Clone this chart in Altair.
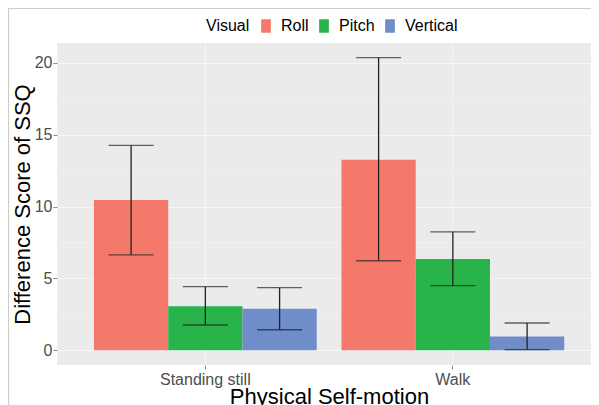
import altair as alt
import pandas as pd

motion = ["Standing still", "Standing still", "Standing still", "Walk", "Walk", "Walk"]
visual = ["Roll", "Pitch", "Vertical", "Roll", "Pitch", "Vertical"]
score = [10.45, 3.07, 2.89, 13.25, 6.35, 0.97]
lower = [6.64, 1.76, 1.43, 6.23, 4.50, 0.05]
upper = [14.25, 4.43, 4.36, 20.35, 8.24, 1.90]

visual_order = ["Roll", "Pitch", "Vertical"]
visual_colors = ["#F4796B", "#28B34B", "#6F8DC9"]
motion_order = ["Standing still", "Walk"]
major_ticks = [0, 5, 10, 15, 20]
minor_ticks = [2.5, 7.5, 12.5, 17.5]

df = pd.DataFrame({"motion": motion, "visual": visual, "score": score,
                   "lower": lower, "upper": upper})
minor_df = pd.DataFrame({"v": minor_ticks})

W, H = 534, 322

xscale = alt.Scale(domain=motion_order, paddingInner=0.1, paddingOuter=0.1288, align=0.58)
yscale = alt.Scale(domain=[-1.02, 21.37], nice=False, zero=False)
xoff = alt.XOffset("visual:N", sort=visual_order,
                   scale=alt.Scale(domain=visual_order, paddingInner=0, paddingOuter=0))

x_enc = alt.X("motion:N", sort=motion_order, scale=xscale,
              axis=alt.Axis(title="Physical Self-motion", labelAngle=0, grid=True,
                            titleX=272, titleY=38, titleBaseline="alphabetic",
                            titleAnchor="middle", labelPadding=2))

minor = alt.Chart(minor_df).mark_rule(color="#F3F3F3", strokeWidth=0.8).encode(
    y=alt.Y("v:Q", scale=yscale)
)

bars = alt.Chart(df).mark_bar(stroke=None).encode(
    x=x_enc,
    xOffset=xoff,
    y=alt.Y("score:Q", scale=yscale,
            axis=alt.Axis(title="Difference Score of SSQ", values=major_ticks,
                          titleX=-28, titleY=161, titleAngle=270,
                          titleBaseline="alphabetic", titleAlign="center",
                          labelPadding=1)),
    y2=alt.datum(0),
    color=alt.Color("visual:N", sort=visual_order,
                    scale=alt.Scale(domain=visual_order, range=visual_colors),
                    legend=alt.Legend(title="Visual", orient="none", legendX=149, legendY=-25,
                                      direction="horizontal", titleOrient="left",
                                      symbolType="M-0.72,-1L0.72,-1L0.72,1L-0.72,1Z",
                                      symbolSize=182, symbolStrokeWidth=0,
                                      labelOffset=7, columnPadding=7, titlePadding=8)),
)

err = alt.Chart(df).mark_rule(color="#222222", strokeWidth=1.3).encode(
    x=alt.X("motion:N", sort=motion_order, scale=xscale),
    xOffset=xoff,
    y=alt.Y("lower:Q", scale=yscale),
    y2="upper:Q",
)
cap_top = alt.Chart(df).mark_tick(color="#222222", thickness=1.3, size=45, orient="horizontal").encode(
    x=alt.X("motion:N", sort=motion_order, scale=xscale),
    xOffset=xoff,
    y=alt.Y("upper:Q", scale=yscale),
)
cap_bot = alt.Chart(df).mark_tick(color="#222222", thickness=1.3, size=45, orient="horizontal").encode(
    x=alt.X("motion:N", sort=motion_order, scale=xscale),
    xOffset=xoff,
    y=alt.Y("lower:Q", scale=yscale),
)

frame_df = pd.DataFrame({"k": [0]})
frame_top = alt.Chart(frame_df).mark_rule(color="#CCCCCC", strokeWidth=1.2).encode(
    x=alt.value(-49), x2=alt.value(W + 10), y=alt.value(-34.5)
)
frame_left = alt.Chart(frame_df).mark_rule(color="#CCCCCC", strokeWidth=1.2).encode(
    x=alt.value(-48.5), y=alt.value(-35), y2=alt.value(H + 60)
)

chart = alt.layer(minor, bars, err, cap_top, cap_bot, frame_top, frame_left).properties(
    width=W, height=H,
    autosize=alt.AutoSizeParams(type="none"),
    padding={"left": 49, "top": 35, "right": 0, "bottom": 40},
    background="white",
).configure_view(
    fill="#EBEBEB", stroke=None
).configure_axis(
    domain=False, gridColor="#F6F6F6", gridWidth=1.0, tickColor="#888888", tickSize=4,
    tickWidth=1.0, labelColor="#4D4D4D", labelFontSize=16, labelFont="Liberation Sans",
    titleFont="Liberation Sans", titleFontSize=22, titleFontWeight="normal",
    titleColor="black"
).configure_legend(
    titleFont="Liberation Sans", labelFont="Liberation Sans", titleFontSize=16,
    labelFontSize=16, titleFontWeight="normal", titleColor="black", labelColor="black"
)

chart.save("out.html", embed_options={"renderer": "svg", "actions": False})
